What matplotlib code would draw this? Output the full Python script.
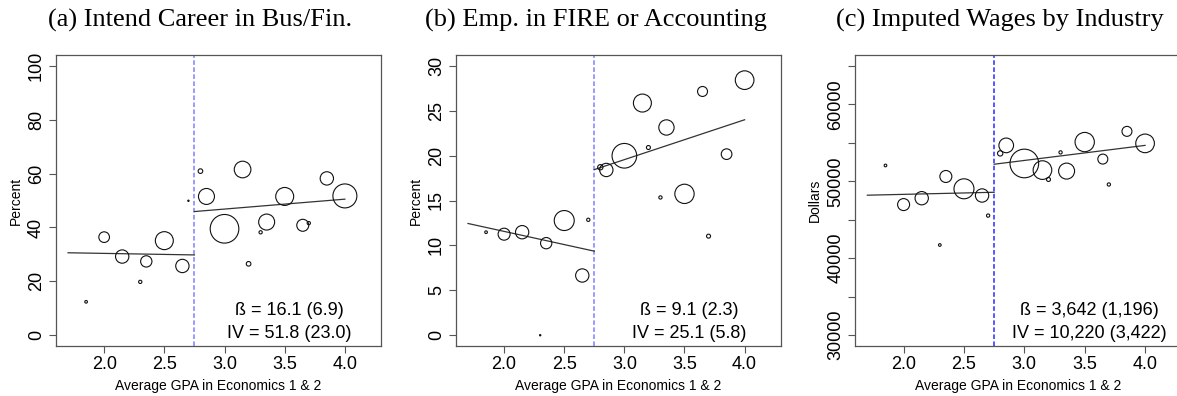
import matplotlib
matplotlib.use("Agg")
import matplotlib.pyplot as plt
import numpy as np

# GPA bins (average of Econ 1 & 2 grades), shared by all three panels
gpaBins = [1.85, 2.0, 2.15, 2.3, 2.35, 2.5, 2.65, 2.7, 2.8, 2.85,
           3.0, 3.15, 3.2, 3.3, 3.35, 3.5, 3.65, 3.7, 3.85, 4.0]
cutoff = 2.75
fitRangeLeft = [1.7, 2.75]
fitRangeRight = [2.75, 4.0]

# (a) intend career in business / finance, percent
careerPct = [12.4, 36.4, 29.2, 19.8, 27.4, 35.1, 25.7, 49.9, 60.9, 51.5,
             39.5, 61.5, 26.5, 38.2, 42.0, 51.5, 40.8, 41.6, 58.2, 51.7]
careerN = [4, 64, 100, 6, 72, 182, 100, 1, 12, 144,
           462, 156, 12, 6, 144, 182, 81, 6, 100, 324]
careerFitLeft = [30.6, 29.8]
careerFitRight = [45.9, 50.5]

# (b) employed in FIRE or accounting, percent
firePct = [11.47, 11.25, 11.47, 0.0, 10.25, 12.77, 6.65, 12.85, 18.7, 18.4,
           19.98, 25.85, 20.9, 15.34, 23.13, 15.74, 27.14, 11.03, 20.16, 28.4]
fireN = [4, 81, 100, 1, 72, 225, 100, 6, 16, 100,
         342, 182, 9, 6, 132, 210, 56, 9, 64, 196]
fireFitLeft = [12.44, 9.36]
fireFitRight = [18.44, 23.99]

# (c) imputed wages by industry, dollars
wageDollars = [52050, 46970, 47800, 41720, 50620, 49020, 48150, 45540, 53620, 54660,
               52310, 51450, 50230, 53750, 51320, 55090, 52880, 49580, 56480, 54920]
wageN = [4, 81, 100, 4, 81, 225, 100, 6, 16, 121,
         462, 196, 9, 6, 144, 210, 56, 6, 56, 196]
wageFitLeft = [48189, 48570]
wageFitRight = [52212, 54659]

titles = ["(a) Intend Career in Bus/Fin.",
          "(b) Emp. in FIRE or Accounting",
          "(c) Imputed Wages by Industry"]
yLabels = ["Percent", "Percent", "Dollars"]
statLines = [("ß = 16.1 (6.9)", "IV = 51.8 (23.0)"),
             ("ß = 9.1 (2.3)", "IV = 25.1 (5.8)"),
             ("ß = 3,642 (1,196)", "IV = 10,220 (3,422)")]

plt.rcParams['font.family'] = ['Liberation Sans', 'DejaVu Sans']

W, H = 1177, 396
fig = plt.figure(figsize=(W / 100, H / 100), dpi=100)

axBoxes = [(56, 325), (456, 324.7), (855.3, 326)]
titleX = [200, 596, 1000]
panels = [
    (careerPct, careerN, careerFitLeft, careerFitRight, (-4, 104), np.arange(0, 101, 20), '#8080ff'),
    (firePct, fireN, fireFitLeft, fireFitRight, (-1.2, 31.2), np.arange(0, 31, 5), '#8080ff'),
    (wageDollars, wageN, wageFitLeft, wageFitRight, (28600, 66400), np.arange(30000, 65001, 5000), '#2a2aff'),
]
spineColor = '#555555'

for i, (yVals, counts, fitL, fitR, yLim, yTicks, vColor) in enumerate(panels):
    left, width = axBoxes[i]
    ax = fig.add_axes([left / W, 50 / H, width / W, 291 / H])

    # circle area proportional to bin size
    sizes = 0.92 * np.array(counts)
    ax.scatter(gpaBins, yVals, s=sizes, facecolors='none', edgecolors='#111111',
               linewidths=0.8, zorder=3)

    ax.plot(fitRangeLeft, fitL, color='#333333', lw=0.9, zorder=2)
    ax.plot(fitRangeRight, fitR, color='#333333', lw=0.9, zorder=2)
    ax.axvline(cutoff, color=vColor, lw=1.1, ls=(0, (3.0, 1.6)), zorder=1)

    ax.set_xlim(1.6, 4.3)
    ax.set_ylim(*yLim)
    ax.set_xticks([2.0, 2.5, 3.0, 3.5, 4.0])
    ax.set_xticklabels(["2.0", "2.5", "3.0", "3.5", "4.0"])
    ax.set_yticks(yTicks)
    if i == 2:
        ax.set_yticklabels([str(t) if t % 10000 == 0 else "" for t in yTicks])
    else:
        ax.set_yticklabels([str(t) for t in yTicks])

    ax.tick_params(length=5, width=0.8, color=spineColor, labelsize=13, pad=2)
    ax.tick_params(axis='y', labelrotation=90, pad=3)
    for lab in ax.get_yticklabels():
        lab.set_va('center')
    for sp in ax.spines.values():
        sp.set_color(spineColor)
        sp.set_linewidth(0.9)

    ax.set_xlabel("Average GPA in Economics 1 & 2", fontsize=10)
    ax.xaxis.set_label_coords(0.5, -0.115)
    ax.set_ylabel(yLabels[i], fontsize=10)
    ax.yaxis.set_label_coords(-0.102, 0.5)

    top, bottom = statLines[i]
    tr = ax.get_xaxis_transform()
    ax.text(3.54, 0.121, top, transform=tr, ha='center', va='center', fontsize=13)
    ax.text(3.54, 0.044, bottom, transform=tr, ha='center', va='center', fontsize=13)

    fig.text(titleX[i] / W, 1 - 20 / H, titles[i], ha='center', va='center',
             family=['Liberation Serif', 'DejaVu Serif'], fontsize=19)

fig.savefig("out.png", dpi=100)
